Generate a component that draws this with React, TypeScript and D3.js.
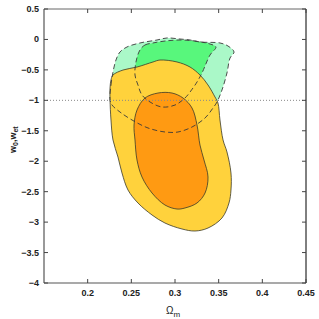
import React from "react";
import * as d3 from "d3";

// contour outlines: [Omega_m, w]
const yellowOuter: [number, number][] = [
  [0.2267, -0.666], [0.229, -0.584], [0.2405, -0.502], [0.2565, -0.453], [0.2748, -0.37],
  [0.2828, -0.338], [0.3023, -0.37], [0.3172, -0.453], [0.3286, -0.584], [0.3378, -0.748],
  [0.3458, -0.945], [0.3492, -1.044], [0.3515, -1.323], [0.355, -1.651], [0.3595, -1.848],
  [0.3641, -2.193], [0.3641, -2.473], [0.3618, -2.686], [0.3538, -2.932], [0.3378, -3.097],
  [0.3229, -3.146], [0.308, -3.113], [0.2885, -3.015], [0.2737, -2.883], [0.2576, -2.686],
  [0.2462, -2.473], [0.2393, -2.193], [0.2347, -1.931], [0.229, -1.651], [0.2267, -1.323],
  [0.2256, -0.994], [0.2256, -0.797],
];

const orangeInner: [number, number][] = [
  [0.2565, -1.159], [0.2656, -0.962], [0.2805, -0.88], [0.2966, -0.88], [0.3092, -0.962],
  [0.3195, -1.126], [0.3252, -1.405], [0.3286, -1.734], [0.3332, -1.98], [0.3378, -2.259],
  [0.3344, -2.522], [0.3252, -2.686], [0.3114, -2.768], [0.3023, -2.785], [0.2885, -2.719],
  [0.2737, -2.522], [0.2622, -2.259], [0.2565, -1.98], [0.2542, -1.651], [0.2531, -1.405],
];

const greenOuter: [number, number][] = [
  [0.2256, -0.994], [0.2267, -0.748], [0.229, -0.535], [0.2324, -0.338], [0.237, -0.206],
  [0.245, -0.124], [0.2599, -0.058], [0.2794, -0.009], [0.2908, 0.024], [0.3057, 0.007],
  [0.3172, -0.009], [0.3286, -0.042], [0.3515, -0.058], [0.3607, -0.108], [0.3676, -0.206],
  [0.363, -0.305], [0.3595, -0.551], [0.3538, -0.83], [0.3481, -1.027], [0.3435, -1.126],
  [0.3344, -1.29], [0.3195, -1.438], [0.3034, -1.52], [0.2885, -1.52], [0.2691, -1.454],
  [0.2508, -1.323], [0.237, -1.192], [0.2279, -1.077],
];

const greenInner: [number, number][] = [
  [0.2599, -0.173], [0.2656, -0.091], [0.2748, -0.058], [0.2885, -0.026], [0.3057, -0.009],
  [0.3229, -0.026], [0.3401, -0.075], [0.3469, -0.124], [0.3401, -0.255], [0.3309, -0.551],
  [0.3252, -0.699], [0.3206, -0.797], [0.3114, -0.962], [0.3, -1.077], [0.2851, -1.109],
  [0.2714, -1.027], [0.2622, -0.912], [0.2576, -0.748], [0.2542, -0.584], [0.2553, -0.37],
];

const xTicks = [0.2, 0.25, 0.3, 0.35, 0.4, 0.45];
const yTicks = [0.5, 0, -0.5, -1, -1.5, -2, -2.5, -3, -3.5, -4];
const refW = -1;

const W = 319;
const H = 319;
const L = 44, R = 306, T = 9, B = 283;

export default function App() {
  const x = d3.scaleLinear().domain([0.15, 0.45]).range([L, R]);
  const y = d3.scaleLinear().domain([0.5, -4]).range([T, B]);
  const line = d3
    .line<[number, number]>()
    .x((d) => x(d[0]))
    .y((d) => y(d[1]))
    .curve(d3.curveCatmullRomClosed.alpha(0.5));

  const fmt = (v: number) => String(v).replace("-", "\u2212");
  const font = "Liberation Sans, Arial, sans-serif";

  return (
    <svg
      width={W}
      height={H}
      style={{ position: "absolute", left: 0, top: 0, background: "#fff" }}
    >
      <path d={line(greenOuter) || ""} fill="#aaf8c8" stroke="none" />
      <path d={line(greenInner) || ""} fill="#58f77c" stroke="none" />
      <path d={line(yellowOuter) || ""} fill="#ffd23c" stroke="#3a3a2a" strokeWidth={0.8} />
      <path d={line(orangeInner) || ""} fill="#ff9a12" stroke="#3a3a2a" strokeWidth={0.8} />
      <path
        d={line(greenOuter) || ""}
        fill="none"
        stroke="#3a3a3a"
        strokeWidth={0.9}
        strokeDasharray="5,3"
      />
      <path
        d={line(greenInner) || ""}
        fill="none"
        stroke="#3a3a3a"
        strokeWidth={0.9}
        strokeDasharray="5,3"
      />
      <line
        x1={L}
        x2={R}
        y1={y(refW)}
        y2={y(refW)}
        stroke="#888"
        strokeWidth={1}
        strokeDasharray="1,2"
      />

      {/* frame */}
      <line x1={L} x2={R} y1={T} y2={T} stroke="#666" strokeWidth={1} />
      <line x1={L} x2={R} y1={B} y2={B} stroke="#555" strokeWidth={1.2} />
      <line x1={L} x2={L} y1={T} y2={B} stroke="#555" strokeWidth={1.2} />
      <line x1={R} x2={R} y1={T} y2={B} stroke="#000" strokeWidth={1} />

      {xTicks.map((t) => (
        <g key={"x" + t}>
          <line x1={x(t)} x2={x(t)} y1={B} y2={B - 4} stroke="#444" />
          <line x1={x(t)} x2={x(t)} y1={T} y2={T + 4} stroke="#444" />
          <text
            x={x(t)}
            y={B + 13}
            textAnchor="middle"
            fontFamily={font}
            fontSize={9}
            fontWeight="bold"
            fill="#222"
          >
            {fmt(t)}
          </text>
        </g>
      ))}
      {yTicks.map((t) => (
        <g key={"y" + t}>
          <line x1={L} x2={L + 4} y1={y(t)} y2={y(t)} stroke="#444" />
          <line x1={R} x2={R - 4} y1={y(t)} y2={y(t)} stroke="#444" />
          <text
            x={L - 5}
            y={y(t) + 3}
            textAnchor="end"
            fontFamily={font}
            fontSize={9}
            fontWeight="bold"
            fill="#222"
          >
            {fmt(t)}
          </text>
        </g>
      ))}

      <text x={166} y={314} fontFamily={font} fontSize={10} fill="#222">
        Ω<tspan fontSize={8} dy={3}>m</tspan>
      </text>
      <text
        transform="translate(16,153) rotate(-90)"
        fontFamily={font}
        fontSize={9}
        fontWeight="bold"
        fill="#222"
      >
        w<tspan fontSize={7} dy={2}>0</tspan>
        <tspan dy={-2}>,w</tspan>
        <tspan fontSize={7} dy={2}>et</tspan>
      </text>
    </svg>
  );
}
